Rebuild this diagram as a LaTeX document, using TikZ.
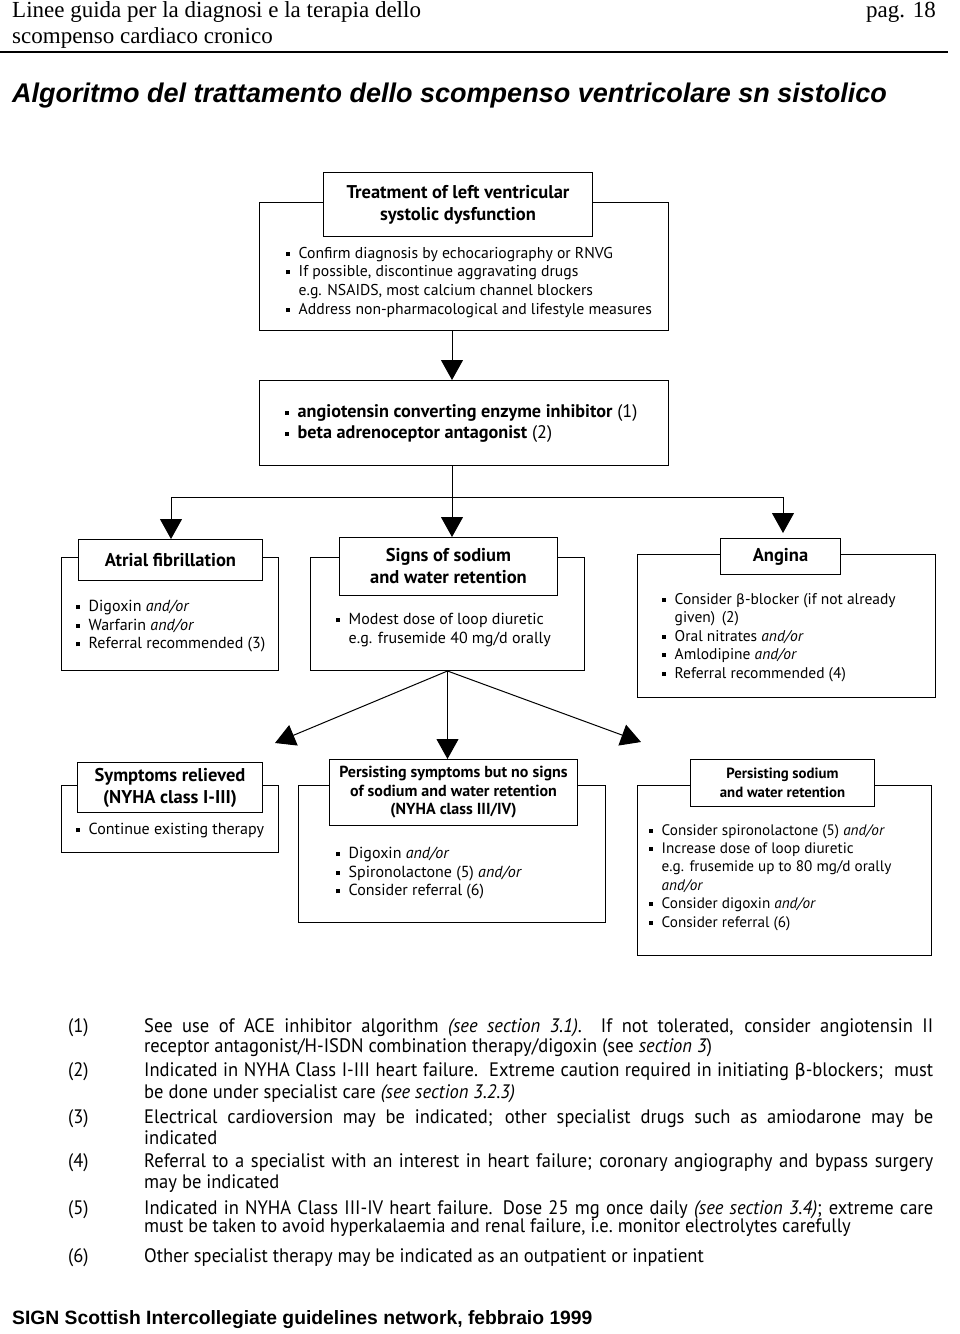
\documentclass[tikz,border=0pt]{standalone}
\usepackage{fontspec}
\setmainfont{Liberation Serif}
\newfontfamily\flowfont{PT Sans}
\newfontfamily\headfont{Liberation Sans}
\newfontfamily\greekfont{DejaVu Sans}
\newfontfamily\notefont[FakeStretch=0.95]{PT Sans}
\usetikzlibrary{arrows.meta,positioning,calc}

\newcommand{\bul}{\makebox[12.5pt][l]{\rule[2.5pt]{4pt}{4pt}}}
\newcommand{\ind}{\hspace*{12.5pt}}
\newcommand{\ao}{\textit{and/or}}
\newcommand{\betachar}{{\greekfont\fontsize{0.9em}{1em}\selectfont β}}
\newcommand{\fullline}[1]{\makebox[789pt][s]{#1}}

\tikzset{
  outerbox/.style={draw, line width=1pt, anchor=north west, inner sep=0pt},
  headbox/.style={draw, fill=white, line width=1pt, anchor=north west, inner sep=0pt,
    align=center, font=\flowfont\bfseries\fontsize{18.5}{22}\selectfont},
  body/.style={anchor=north west, inner sep=0pt, align=left,
    font=\flowfont\fontsize{16}{18.6}\selectfont},
  flow/.style={line width=1pt, -{Triangle[width=22pt,length=20pt]}},
  note/.style={anchor=base west, inner sep=0pt, font=\notefont\fontsize{19.5}{22}\selectfont}
}

\begin{document}
\begin{tikzpicture}[x=1pt,y=-1pt]
    \useasboundingbox[fill=white] (0,0) rectangle (960,1334);

    % Page header
    \node[anchor=west, inner sep=0pt, font=\fontsize{23}{26}\selectfont] (hdra) at (12,12) {Linee guida per la diagnosi e la terapia dello};
    \node[anchor=west, inner sep=0pt, font=\fontsize{23}{26}\selectfont] (hdrb) at (12,38) {scompenso cardiaco cronico};
    \node[anchor=east, inner sep=0pt, font=\fontsize{23}{26}\selectfont] (page) at (936,12) {pag. 18};
    \draw[line width=1.5pt] (0,52) -- (948,52);
    \node[anchor=west, inner sep=0pt, font=\headfont\bfseries\itshape\fontsize{27}{30}\selectfont] (title) at (12,96)
        {Algoritmo del trattamento dello scompenso ventricolare sn sistolico};

    % Top boxes
    \node[outerbox, minimum width=409pt, minimum height=128pt] (lvsd) at (259,202) {};
    \node[headbox, minimum width=269pt, minimum height=64pt] (lvsdhead) at (323,172)
        {Treatment of left ventricular\\systolic dysfunction};
    \node[body, font=\flowfont\fontsize{15.7}{18.6}\selectfont] (lvsdtxt) at (286,247)
        {\bul Confirm diagnosis by echocariography or RNVG\\
        \bul If possible, discontinue aggravating drugs\\
        \ind e.g. NSAIDS, most calcium channel blockers\\
        \bul Address non-pharmacological and lifestyle measures};

    \node[outerbox, minimum width=409pt, minimum height=85pt] (ace) at (259,380) {};
    \node[body, font=\flowfont\fontsize{18.2}{21}\selectfont] (acetxt) at (285,404)
        {\bul\textbf{angiotensin converting enzyme inhibitor} (1)\\
         \bul\textbf{beta adrenoceptor antagonist} (2)};

    % Split
    \coordinate (split) at (452,497);
    \coordinate (busL) at (171,497);
    \coordinate (busR) at (783,497);

    % Middle row
    \node[outerbox, minimum width=217pt, minimum height=113pt] (af) at (61,557) {};
    \node[headbox, minimum width=184pt, minimum height=41pt] (afhead) at (78,539) {Atrial fibrillation};
    \node[body] (aftxt) at (76,600) {\bul Digoxin \ao\\ \bul Warfarin \ao\\ \bul Referral recommended (3)};

    \node[outerbox, minimum width=274pt, minimum height=113pt] (sod) at (310,557) {};
    \node[headbox, minimum width=218pt, minimum height=58pt] (sodhead) at (339,537) {Signs of sodium\\and water retention};
    \node[body] (sodtxt) at (336,613) {\bul Modest dose of loop diuretic\\ \ind e.g. frusemide 40 mg/d orally};

    \node[outerbox, minimum width=298pt, minimum height=143pt] (ang) at (637,554) {};
    \node[headbox, minimum width=120pt, minimum height=36pt] (anghead) at (720,538) {Angina};
    \node[body, font=\flowfont\fontsize{15.5}{18.5}\selectfont] (angtxt) at (662,593)
        {\bul Consider \betachar-blocker (if not already\\
        \ind given)\, (2)\\ \bul Oral nitrates \ao\\ \bul Amlodipine \ao\\ \bul Referral recommended (4)};

    % Bottom row
    \coordinate (tipL) at (275,743);
    \coordinate (tipR) at (641,742);

    \node[outerbox, minimum width=217pt, minimum height=67pt] (sym) at (61,785) {};
    \node[headbox, minimum width=185pt, minimum height=50pt] (symhead) at (77,762) {Symptoms relieved\\(NYHA class I-III)};
    \node[body] (symtxt) at (76,823) {\bul Continue existing therapy};

    \node[outerbox, minimum width=307pt, minimum height=137pt] (pers) at (298,785) {};
    \node[headbox, minimum width=248pt, minimum height=66pt, font=\flowfont\bfseries\fontsize{16}{18.5}\selectfont]
        (pershead) at (329,759) {Persisting symptoms but no signs\\of sodium and water retention\\(NYHA class III/IV)};
    \node[body] (perstxt) at (336,847) {\bul Digoxin \ao\\ \bul Spironolactone (5) \ao\\ \bul Consider referral (6)};

    \node[outerbox, minimum width=294pt, minimum height=170pt] (pna) at (637,785) {};
    \node[headbox, minimum width=184pt, minimum height=47pt, font=\flowfont\bfseries\fontsize{14.8}{19}\selectfont]
        (pnahead) at (690,759) {Persisting sodium\\and water retention};
    \node[body, font=\flowfont\fontsize{15.2}{18.4}\selectfont] (pnatxt) at (649,824)
        {\bul Consider spironolactone (5) \ao\\
         \bul Increase dose of loop diuretic\\
         \ind e.g. frusemide up to 80 mg/d orally\\
         \ind\ao\\
         \bul Consider digoxin \ao\\
         \bul Consider referral (6)};

    % Connectors
    \draw[flow] (lvsd.south -| split) -- (ace.north -| split);
    \draw[line width=1pt] (ace.south -| split) -- (split);
    \draw[line width=1pt] (busL) -- (busR);
    \draw[flow] (busL) -- (afhead.north -| busL);
    \draw[flow] (split) -- (sodhead.north -| split);
    \draw[flow] (busR) -- ($(anghead.north -| busR)+(0,-5)$);
    \draw[flow] (sod.south) -- (tipL);
    \draw[flow] (sod.south) -- (tipR);
    \draw[flow] (sod.south) -- (sod.south |- pershead.north);

    % Notes
    \node[note] (k1) at (68,1032) {(1)};
    \node[note] (n1a) at (144,1032) {\fullline{See use of ACE inhibitor algorithm \textit{(see section 3.1)}.\ \ If not tolerated, consider angiotensin II}};
    \node[note] (n1b) at (144,1052) {receptor antagonist/H-ISDN combination therapy/digoxin (see \textit{section 3})};
    \node[note] (k2) at (68,1076) {(2)};
    \node[note] (n2a) at (144,1076) {\fullline{Indicated in NYHA Class I-III heart failure.\ \ Extreme caution required in initiating \betachar-blockers;\ \ must}};
    \node[note] (n2b) at (144,1098) {be done under specialist care \textit{(see section 3.2.3)}};
    \node[note] (k3) at (68,1123) {(3)};
    \node[note] (n3a) at (144,1123) {\fullline{Electrical cardioversion may be indicated; other specialist drugs such as amiodarone may be}};
    \node[note] (n3b) at (144,1144) {indicated};
    \node[note] (k4) at (68,1167) {(4)};
    \node[note] (n4a) at (144,1167) {\fullline{Referral to a specialist with an interest in heart failure; coronary angiography and bypass surgery}};
    \node[note] (n4b) at (144,1188) {may be indicated};
    \node[note] (k5) at (68,1214) {(5)};
    \node[note] (n5a) at (144,1214) {\fullline{Indicated in NYHA Class III-IV heart failure. Dose 25 mg once daily \textit{(see section 3.4)}; extreme care}};
    \node[note] (n5b) at (144,1232) {must be taken to avoid hyperkalaemia and renal failure, i.e.\ monitor electrolytes carefully};
    \node[note] (k6) at (68,1262) {(6)};
    \node[note] (n6) at (144,1262) {Other specialist therapy may be indicated as an outpatient or inpatient};

    % Footer
    \node[anchor=west, inner sep=0pt, font=\headfont\bfseries\fontsize{19.3}{22}\selectfont] (foot) at (12,1320)
        {SIGN Scottish Intercollegiate guidelines network, febbraio 1999};
\end{tikzpicture}
\end{document}
